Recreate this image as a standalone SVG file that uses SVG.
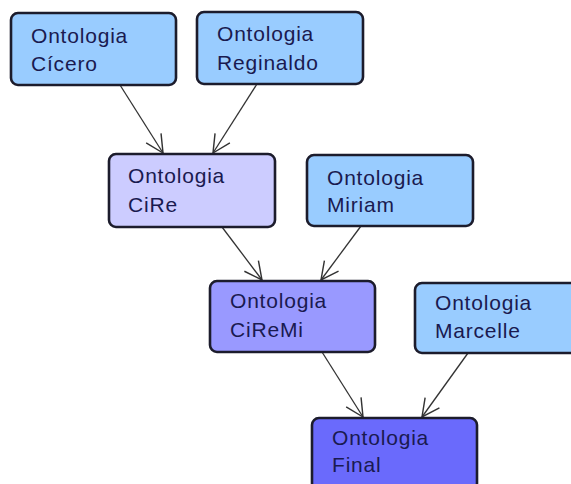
<svg xmlns="http://www.w3.org/2000/svg" width="571" height="484" viewBox="0 0 571 484">
  <style>
    .box { stroke: #1c1c2c; stroke-width: 2.6; }
    .src { fill: #99ccff; }
    .cire { fill: #ccccff; }
    .ciremi { fill: #9999ff; }
    .final { fill: #6a6afc; }
    .lbl { font-family: "Liberation Sans", Arial, sans-serif; font-size: 21px; letter-spacing: 0.8px; fill: #1a1a50; }
    .edge { stroke: #333333; stroke-width: 1.3; fill: none; marker-end: url(#open); }
  </style>
  <defs>
    <marker id="open" markerUnits="userSpaceOnUse" markerWidth="22" markerHeight="22" refX="17" refY="9" orient="auto" viewBox="0 0 20 18">
      <path d="M1,1 L17,9 L1,17" fill="none" stroke="#333333" stroke-width="1.3"/>
    </marker>
  </defs>
  <rect width="571" height="484" fill="#ffffff"/>

  <g id="connectors">
    <line class="edge" x1="120" y1="85" x2="163" y2="153"/>
    <line class="edge" x1="257" y1="84" x2="213" y2="153"/>
    <line class="edge" x1="222" y1="227" x2="262" y2="280"/>
    <line class="edge" x1="361" y1="226" x2="321" y2="280"/>
    <line class="edge" x1="322" y1="352" x2="363" y2="417"/>
    <line class="edge" x1="468" y1="353" x2="422" y2="417"/>
  </g>

  <g id="cicero">
    <rect class="box src" x="11" y="13" width="165" height="72" rx="7"/>
    <text class="lbl" x="31" y="43">Ontologia</text>
    <text class="lbl" x="31" y="71">Cícero</text>
  </g>

  <g id="reginaldo">
    <rect class="box src" x="197" y="12" width="166" height="72" rx="7"/>
    <text class="lbl" x="217" y="41">Ontologia</text>
    <text class="lbl" x="217" y="70">Reginaldo</text>
  </g>

  <g id="cire">
    <rect class="box cire" x="109" y="154" width="166" height="73" rx="7"/>
    <text class="lbl" x="128" y="183">Ontologia</text>
    <text class="lbl" x="128" y="212">CiRe</text>
  </g>

  <g id="miriam">
    <rect class="box src" x="307" y="155" width="166" height="71" rx="7"/>
    <text class="lbl" x="327" y="185">Ontologia</text>
    <text class="lbl" x="327" y="212">Miriam</text>
  </g>

  <g id="ciremi">
    <rect class="box ciremi" x="210" y="281" width="165" height="71" rx="7"/>
    <text class="lbl" x="230" y="308">Ontologia</text>
    <text class="lbl" x="230" y="337">CiReMi</text>
  </g>

  <g id="marcelle">
    <rect class="box src" x="415" y="283" width="170" height="70" rx="7"/>
    <text class="lbl" x="435" y="310">Ontologia</text>
    <text class="lbl" x="435" y="338">Marcelle</text>
  </g>

  <g id="final">
    <rect class="box final" x="312" y="418" width="165" height="72" rx="7"/>
    <text class="lbl" x="332" y="445">Ontologia</text>
    <text class="lbl" x="332" y="472">Final</text>
  </g>
</svg>
